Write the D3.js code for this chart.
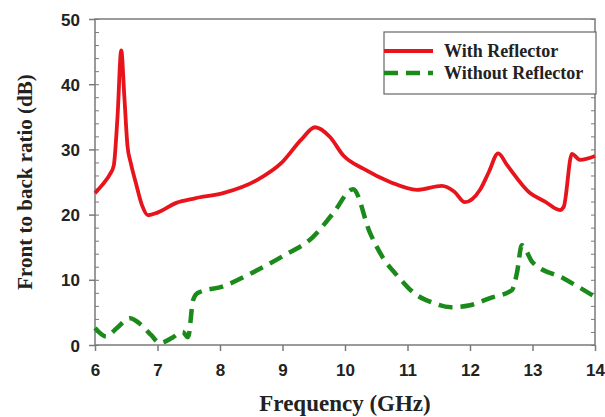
<!DOCTYPE html>
<html>
<head>
<meta charset="utf-8">
<script src="https://cdn.jsdelivr.net/npm/d3@7"></script>
<style>
  html, body { margin: 0; padding: 0; background: #fff; }
  svg { display: block; }
</style>
</head>
<body>
<div id="chart"></div>
<script>
// data
const freqWith = [6.0, 6.12, 6.24, 6.3, 6.36, 6.42, 6.47, 6.52, 6.57, 6.65, 6.75, 6.85, 7.0, 7.3, 7.6, 8.05, 8.59, 9.0, 9.3, 9.52, 9.76, 9.97, 10.3, 10.72, 11.15, 11.55, 11.75, 11.92, 12.16, 12.3, 12.45, 12.6, 12.96, 13.2, 13.44, 13.5, 13.63, 13.76, 14.0];
const withReflector = [23.3, 24.6, 26.2, 27.5, 35, 45.2, 38, 30.5, 28, 25, 21.5, 19.9, 20.3, 21.8, 22.5, 23.3, 25.3, 28.1, 31.5, 33.4, 31.9, 29.1, 27, 25.0, 23.8, 24.4, 23.5, 21.9, 23.8, 26.5, 29.4, 27.5, 23.3, 22, 20.7, 21.2, 29.3, 28.4, 29.0];

const freqWithout = [6.0, 6.18, 6.35, 6.56, 6.75, 6.9, 7.04, 7.25, 7.4, 7.49, 7.57, 7.65, 8.05, 8.5, 9.0, 9.49, 9.81, 10.13, 10.4, 10.6, 10.85, 11.1, 11.4, 11.7, 12.0, 12.32, 12.67, 12.75, 12.83, 13.0, 13.5, 14.0];
const withoutReflector = [2.6, 1.3, 2.6, 4.1, 3.0, 1.5, 0.3, 1.2, 2.0, 1.2, 6.9, 8.0, 9.0, 11.0, 13.6, 16.6, 20.2, 23.9, 17.2, 13.5, 10.5, 8.0, 6.5, 5.8, 6.1, 7.2, 8.4, 11, 15.3, 12.7, 10.2, 7.4];

const xTicks = [6, 7, 8, 9, 10, 11, 12, 13, 14];
const yTicks = [0, 10, 20, 30, 40, 50];
const seriesNames = ['With Reflector', 'Without Reflector'];

const W = 605, H = 417;
const mLeft = 95, mRight = 595, mTop = 19, mBottom = 345;

const svg = d3.select('#chart').append('svg').attr('width', W).attr('height', H);

const x = d3.scaleLinear().domain([6, 14]).range([mLeft, mRight]);
const y = d3.scaleLinear().domain([0, 50]).range([mBottom, mTop]);

const axisCol = '#7a7a7a';
const sans = 'Liberation Sans, Arial, sans-serif';
const serif = 'Liberation Serif, Times New Roman, serif';

// frame
svg.append('rect').attr('x', mLeft).attr('y', mTop).attr('width', mRight - mLeft).attr('height', mBottom - mTop)
  .attr('fill', 'none').attr('stroke', axisCol).attr('stroke-width', 1.5);

// bottom axis
const gx = svg.append('g').attr('transform', `translate(0,${mBottom})`)
  .call(d3.axisBottom(x).tickValues(xTicks).tickSize(6).tickFormat(d3.format('d')));
gx.select('.domain').remove();
gx.selectAll('line').attr('stroke', axisCol).attr('stroke-width', 1.5);
gx.selectAll('text').attr('dy', '0').attr('y', 31)
  .style('font-family', sans).style('font-weight', 'bold')
  .style('font-size', '17px').attr('fill', '#222');

// left axis
const gy = svg.append('g').attr('transform', `translate(${mLeft},0)`)
  .call(d3.axisLeft(y).tickValues(yTicks).tickSize(6));
gy.select('.domain').remove();
gy.selectAll('line').attr('stroke', axisCol).attr('stroke-width', 1.5);
gy.selectAll('text').attr('x', -15).attr('dy', '0.36em')
  .style('font-family', sans).style('font-weight', 'bold')
  .style('font-size', '17px').attr('fill', '#222');

// minor ticks (every 2 dB) on left and right sides
const minor = d3.range(0, 51, 2);
const gyMinor = svg.append('g').attr('transform', `translate(${mLeft},0)`)
  .call(d3.axisRight(y).tickValues(minor).tickSize(4).tickFormat(''));
gyMinor.select('.domain').remove();
gyMinor.selectAll('line').attr('stroke', axisCol);
const gyRight = svg.append('g').attr('transform', `translate(${mRight},0)`)
  .call(d3.axisLeft(y).tickValues(minor).tickSize(4).tickFormat(''));
gyRight.select('.domain').remove();
gyRight.selectAll('line').attr('stroke', axisCol);

// lines
const lineWith = d3.line().x((d, i) => x(freqWith[i])).y(d => y(d)).curve(d3.curveMonotoneX);
const lineWithout = d3.line().x((d, i) => x(freqWithout[i])).y(d => y(d)).curve(d3.curveMonotoneX);

svg.append('path').datum(withoutReflector).attr('d', lineWithout)
  .attr('fill', 'none').attr('stroke', '#1a8a1a').attr('stroke-width', 4.5)
  .attr('stroke-dasharray', '14,8').attr('stroke-linejoin', 'round');

svg.append('path').datum(withReflector).attr('d', lineWith)
  .attr('fill', 'none').attr('stroke', '#e8141c').attr('stroke-width', 3.8)
  .attr('stroke-linejoin', 'round');

// legend
const lg = svg.append('g');
lg.append('rect').attr('x', 384).attr('y', 32).attr('width', 212).attr('height', 62)
  .attr('fill', '#fff').attr('stroke', '#666').attr('stroke-width', 1.2);
const legendItems = [
  { name: seriesNames[0], col: '#e8141c', dash: null, w: 3.8, yy: 51 },
  { name: seriesNames[1], col: '#1a8a1a', dash: '14,8', w: 4.5, yy: 73 }
];
legendItems.forEach(it => {
  lg.append('line').attr('x1', 384).attr('x2', 433).attr('y1', it.yy).attr('y2', it.yy)
    .attr('stroke', it.col).attr('stroke-width', it.w).attr('stroke-dasharray', it.dash);
  lg.append('text').attr('x', 444).attr('y', it.yy + 6).text(it.name)
    .style('font-family', serif).style('font-weight', 'bold')
    .style('font-size', '18px').attr('fill', '#222');
});

// axis titles
svg.append('text').attr('x', (mLeft + mRight) / 2).attr('y', 411).attr('text-anchor', 'middle')
  .text('Frequency (GHz)')
  .style('font-family', serif).style('font-weight', 'bold')
  .style('font-size', '23px').attr('fill', '#222');

svg.append('text').attr('transform', `translate(32,${(mTop + mBottom) / 2}) rotate(-90)`)
  .attr('text-anchor', 'middle').text('Front to back ratio (dB)')
  .style('font-family', serif).style('font-weight', 'bold')
  .style('font-size', '21px').attr('fill', '#222');
</script>
</body>
</html>
